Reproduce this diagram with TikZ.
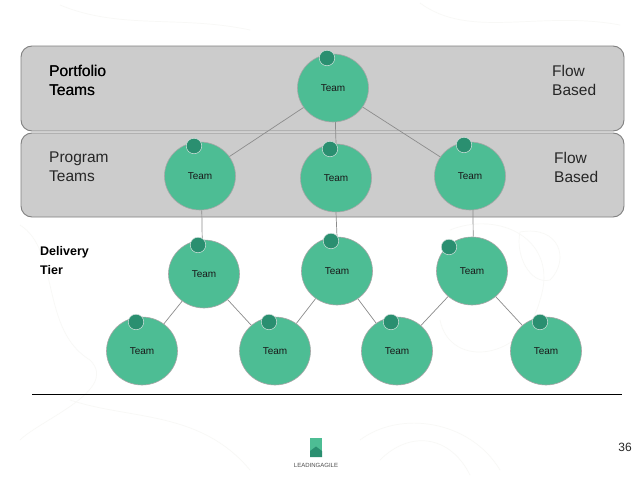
\documentclass[tikz,border=0pt]{standalone}
\usepackage{fontspec}
\setmainfont{Liberation Sans}
\usetikzlibrary{shapes.geometric}
\definecolor{teamg}{HTML}{4DBD94}
\definecolor{dotg}{HTML}{2A8F70}
\definecolor{band}{HTML}{CCCCCC}
\definecolor{contour}{HTML}{F8F8F6}
\newcommand\teamtext{\raisebox{-2pt}{Team}}
\tikzset{
  x=1pt,y=-1pt,
  tier/.style={draw=black!50,fill=band,line width=0.9pt,rounded corners=11pt},
  team/.style={ellipse,draw=black!35,fill=teamg,line width=0.6pt,minimum width=71pt,minimum height=68pt,inner sep=0pt,font=\fontsize{10}{12}\selectfont,text=black!90},
  lead/.style={circle,fill=dotg,draw=dotg!70!black!20,line width=0.5pt,minimum size=15.5pt,inner sep=0pt},
  link/.style={draw=black!45,line width=0.7pt},
  tierlabel/.style={anchor=north west,align=left,font=\fontsize{15.5}{19}\selectfont,inner sep=0pt},
  contourline/.style={draw=contour,line width=0.7pt}
}
\begin{document}
\begin{tikzpicture}
\useasboundingbox (0,0) rectangle (638,479);
\fill[white] (0,0) rectangle (638,479);
% faint contour background
\draw[contourline] (450,230) .. controls (500,210) and (560,240) .. (540,300) .. controls (525,360) and (450,370) .. (440,320);
\draw[contourline] (520,232) .. controls (560,225) and (570,260) .. (550,280) .. controls (530,285) and (515,255) .. (520,232);
\draw[contourline] (20,225) .. controls (60,250) and (40,330) .. (90,360) .. controls (120,390) and (40,420) .. (20,440);
\draw[contourline] (360,440) .. controls (400,410) and (470,420) .. (500,470);
\draw[contourline] (380,460) .. controls (410,430) and (450,435) .. (470,475);
\draw[contourline] (60,5) .. controls (120,30) and (180,15) .. (250,30);
\draw[contourline] (420,3) .. controls (470,40) and (540,10) .. (620,25);
\draw[contourline] (70,400) .. controls (130,420) and (200,410) .. (250,470);
% tiers
\draw[tier] (21,46) rectangle (624,131);
\draw[tier] (21,133) rectangle (624,217);
% teams
\node[team] (t)  at (333,88) {\teamtext};
\node[team] (p1) at (200,176) {\teamtext};
\node[team] (p2) at (336,178) {\teamtext};
\node[team] (p3) at (470,176) {\teamtext};
\node[team] (d1) at (204,274) {\teamtext};
\node[team] (d2) at (337,271) {\teamtext};
\node[team] (d3) at (472,271) {\teamtext};
\node[team] (b1) at (142,351) {\teamtext};
\node[team] (b2) at (275,351) {\teamtext};
\node[team] (b3) at (397,351) {\teamtext};
\node[team] (b4) at (546,351) {\teamtext};
% connectors
\draw[link] (t) -- (p1);
\draw[link] (t.-86) -- (p2.90);
\draw[link] (t) -- (p3);
\draw[link] (p1.-87) -- (d1.93);
\draw[link] (p2.south) -- (d2.north);
\draw[link] (p3.-85) -- (d3.88);
\draw[link] (d1) -- (b1);
\draw[link] (d1) -- (b2);
\draw[link] (d2) -- (b2);
\draw[link] (d2) -- (b3);
\draw[link] (d3) -- (b3);
\draw[link] (d3) -- (b4);
% lead dots
\foreach \n/\x/\y in {l0/327/58,l1/194/146,l2/330/149,l3/464/145,l4/198/245,l5/331/241,l6/449/247,l7/136/322,l8/269/322,l9/391/322,l10/540/322}
  \node[lead] (\n) at (\x,\y) {};
% tier labels
\node[tierlabel] (lp) at (49,65) {Portfolio\\Teams};
\node[tierlabel] at (49.2,65) {Portfolio\\Teams};
\node[tierlabel,text=black!85] (lg) at (49,152) {Program\\Teams};
\node[tierlabel,text=black!85] (f1) at (552,65) {Flow\\Based};
\node[tierlabel,text=black!85] (f2) at (554,152) {Flow\\Based};
\node[anchor=north west,align=left,inner sep=0pt,font=\bfseries\fontsize{12.5}{19}\selectfont] (dt) at (40,246.5) {Delivery\\Tier};
% rule
\coordinate (ra) at (32,394);
\coordinate (rb) at (622,394);
\draw[black,line width=0.9pt] (ra) -- (rb);
% logo
\fill[teamg] (310,438) rectangle (322,457);
\fill[dotg] (310,457) -- (310,451) -- (316,446.5) -- (322,451) -- (322,457) -- cycle;
\node[font=\fontsize{6}{7}\selectfont,text=black!70] (logo) at (316,465) {LEADINGAGILE};
\node[font=\fontsize{12}{14}\selectfont,text=black!85] (pg) at (625,447) {36};
\end{tikzpicture}
\end{document}
